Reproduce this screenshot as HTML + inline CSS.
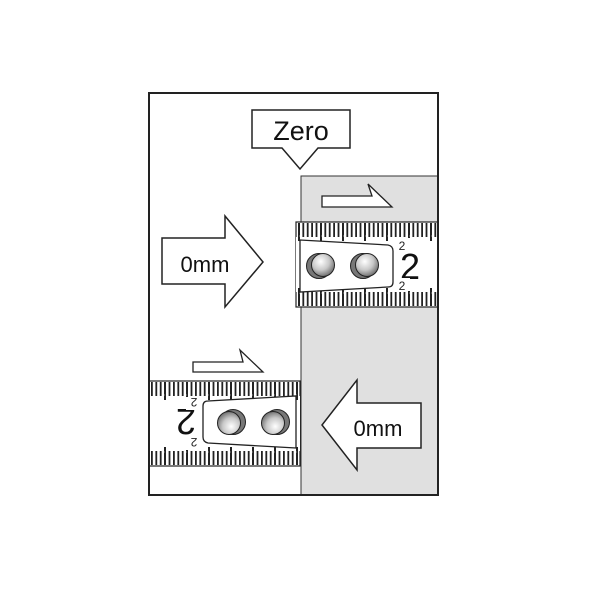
<!DOCTYPE html>
<html><head><style>body{margin:0;background:#fff}svg{display:block}</style></head><body>
<svg width="600" height="600" viewBox="0 0 600 600" xmlns="http://www.w3.org/2000/svg" font-family="Liberation Sans, Arial, sans-serif">
<defs>
<radialGradient id="rv" cx="0.4" cy="0.35" r="0.75">
<stop offset="0" stop-color="#fff"/><stop offset="0.5" stop-color="#c8c8c8"/><stop offset="1" stop-color="#555"/>
</radialGradient>
<g id="tape">
<rect x="296" y="222" width="160" height="85" fill="#fff" stroke="#222" stroke-width="1.2"/>
<line x1="298" y1="230" x2="456" y2="230" stroke="#222" stroke-width="14" stroke-dasharray="1.8 2.6"/>
<line x1="298" y1="229" x2="456" y2="229" stroke="#222" stroke-width="12" stroke-dasharray="2 20"/>
<line x1="298" y1="299" x2="456" y2="299" stroke="#222" stroke-width="14" stroke-dasharray="1.8 2.6"/>
<line x1="298" y1="300" x2="456" y2="300" stroke="#222" stroke-width="12" stroke-dasharray="2 20"/>
<rect x="296" y="237" width="160" height="55" fill="#fff"/>
<line x1="298" y1="239" x2="456" y2="239" stroke="#222" stroke-width="4" stroke-dasharray="2 20"/>
<line x1="298" y1="290" x2="456" y2="290" stroke="#222" stroke-width="4" stroke-dasharray="2 20"/>
<path d="M300 240 L388 245 Q393 246 393 251 L393 282 Q393 287 388 287 L300 292 Z" fill="#fff" stroke="#222" stroke-width="1.3"/>
<circle cx="319" cy="266" r="12.5" fill="#777" stroke="#222"/>
<circle cx="323" cy="265" r="11.5" fill="url(#rv)" stroke="#222"/>
<circle cx="363" cy="266" r="12.5" fill="#777" stroke="#222"/>
<circle cx="367" cy="265" r="11.5" fill="url(#rv)" stroke="#222"/>
<text x="410" y="279" font-size="36" text-anchor="middle" fill="#111">2</text>
<rect x="396" y="238" width="14" height="13" fill="#fff"/>
<text x="402" y="250" font-size="12" fill="#222" text-anchor="middle">2</text>
<rect x="396" y="278" width="14" height="13" fill="#fff"/>
<text x="402" y="290" font-size="12" fill="#222" text-anchor="middle">2</text>
</g>
</defs>
<rect x="149" y="93" width="289" height="402" fill="#fff"/>
<rect x="301" y="176" width="137" height="319" fill="#e0e0e0" stroke="#333" stroke-width="1"/>
<use href="#tape"/>
<g transform="rotate(180 298 344)"><use href="#tape"/></g>
<rect x="0" y="0" width="148" height="600" fill="#fff"/>
<rect x="439" y="0" width="161" height="600" fill="#fff"/>
<rect x="149" y="93" width="289" height="402" fill="none" stroke="#222" stroke-width="2"/>
<path d="M252 110 H350 V148 H318 L300 169 L282 148 H252 Z" fill="#fff" stroke="#222" stroke-width="1.5"/>
<text x="301" y="140" font-size="27" text-anchor="middle" fill="#111">Zero</text>
<path d="M162 238 H225 V216 L263 262 L225 307 V284 H162 Z" fill="#fff" stroke="#222" stroke-width="1.5"/>
<text x="205" y="272" font-size="22" text-anchor="middle" fill="#111">0mm</text>
<path d="M421 403 H357 V380 L322 425 L357 470 V448 H421 Z" fill="#fff" stroke="#222" stroke-width="1.5"/>
<text x="378" y="436" font-size="22" text-anchor="middle" fill="#111">0mm</text>
<path d="M322 196 H372 L368 184 L392 207 H322 Z" fill="#fff" stroke="#222" stroke-width="1.3"/>
<path d="M193 362 H243 L240 350 L263 372 H193 Z" fill="#fff" stroke="#222" stroke-width="1.3"/>
</svg>
</body></html>
